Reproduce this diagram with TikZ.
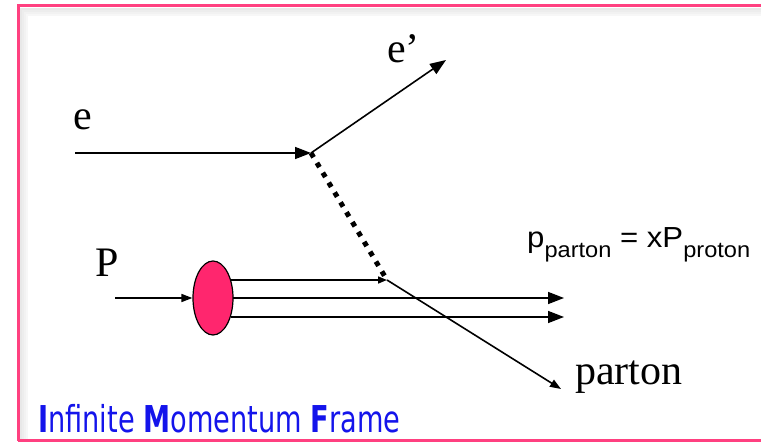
\documentclass[tikz,border=0pt]{standalone}
\usepackage{fontspec}
\setmainfont{Liberation Serif}
\newfontfamily\arialf{Liberation Sans}
\newfontfamily\dejaf{DejaVu Sans}
\usetikzlibrary{arrows.meta,shapes.geometric}
\definecolor{framepink}{RGB}{255,64,128}
\definecolor{blobpink}{RGB}{255,38,110}
\definecolor{titleblue}{RGB}{20,20,235}
\tikzset{
  lbl/.style={inner sep=0pt, anchor=base west, font=\fontsize{42}{48}\selectfont},
  line/.style={line width=1.6pt, black},
  bigtip/.style={-{Triangle[length=16pt,width=12pt]}},
  smalltip/.style={-{Triangle[length=9pt,width=7pt]}},
  midtip/.style={-{Triangle[length=11pt,width=8pt]}},
}
\begin{document}
\begin{tikzpicture}[x=1pt,y=-1pt]
\useasboundingbox (0,0) rectangle (761,446);
% frame with a soft inner shadow
\foreach \i/\c in {3/9,5/7,7/5,9/3}{
  \draw[line width=2pt, black!\c] (18+\i,441) -- (18+\i,6+\i) -- (770,6+\i);
}
\draw[line width=3pt, framepink] (18,441) -- (18,6) -- (775,6);
\draw[line width=3pt, framepink] (18,441) -- (775,441);
% points
\coordinate (estart) at (75,153);
\coordinate (vtx) at (311,153);
\coordinate (eout) at (446,60);
\coordinate (pstart) at (115,298);
\coordinate (qv) at (387,280);
\coordinate (r1) at (564,298);
\coordinate (r2) at (564,317);
\coordinate (pend) at (561,389);
% proton blob
\node[draw=black, line width=1.2pt, fill=blobpink, ellipse, minimum width=40pt, minimum height=74pt, inner sep=0pt] (blob) at (213,298) {};
\coordinate (b1) at (231,280);
\coordinate (b2) at (233,298);
\coordinate (b3) at (231,317);
% electron lines
\draw[line, bigtip] (estart) -- (vtx);
\draw[line, bigtip] (vtx) -- (eout);
% exchanged boson
\draw[line width=5pt, dash pattern=on 5pt off 6.5pt] (vtx) -- (qv);
% proton
\draw[line, midtip] (pstart) -- (blob.west);
\draw[line, smalltip] (b1) -- (qv);
\draw[line, bigtip] (b2) -- (r1);
\draw[line, bigtip] (b3) -- (r2);
\draw[line, midtip] (qv) -- (pend);
% labels
\node[lbl] (le) at (73,130) {e};
\node[lbl] (lep) at (387,63) {e’};
\node[lbl] (lP) at (95,277) {P};
\node[lbl] (lparton) at (575,385) {parton};
\node[inner sep=0pt, anchor=base west, font=\arialf\fontsize{29}{34}\selectfont] (eq) at (527,248)
  {\resizebox{223pt}{\height}{p\raisebox{-10pt}{\fontsize{22}{26}\selectfont parton} = xP\raisebox{-10pt}{\fontsize{22}{26}\selectfont proton}}};
\node[inner sep=0pt, anchor=base west, text=titleblue, font=\dejaf\fontsize{37}{44}\selectfont] (title) at (38,433)
  {\resizebox{362pt}{\height}{\textbf{I}nfinite \textbf{M}omentum \textbf{F}rame}};
\end{tikzpicture}
\end{document}
